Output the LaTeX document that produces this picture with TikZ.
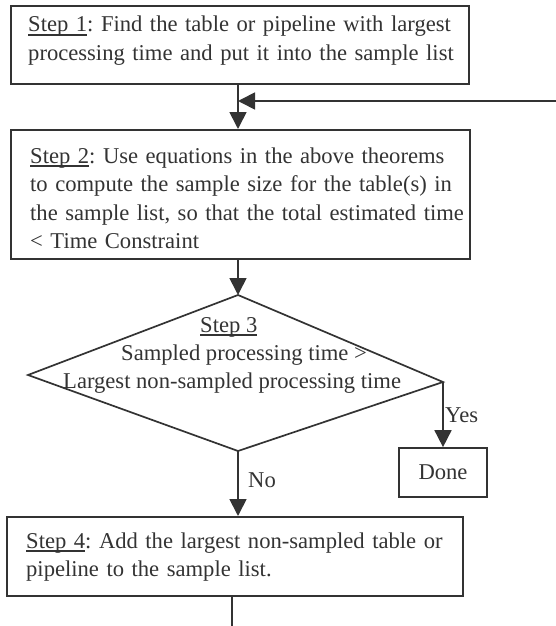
\documentclass[tikz,border=0pt]{standalone}
\usepackage{fontspec}
\setmainfont{Liberation Serif}
\usetikzlibrary{arrows.meta}

\definecolor{ink}{HTML}{333333}
% body font of the flow chart
\newcommand\stepfont{\fontsize{22.6}{28.5}\selectfont\frenchspacing}
% word-processor style underline that cuts through descenders
\newcommand\stepul[1]{\setbox0\hbox{#1}\rlap{\rule[-3.7pt]{\wd0}{1.3pt}}\box0}

\begin{document}
\begin{tikzpicture}[x=1pt,y=-1pt,
  stepbox/.style={draw=ink, line width=1.7pt, rectangle, anchor=north west, inner sep=0pt},
  steptext/.style={text=ink, font=\stepfont, inner sep=0pt, anchor=base west, align=left},
  flow/.style={draw=ink, line width=1.7pt, -{Triangle[length=17pt,width=17pt]}},
  plain/.style={draw=ink, line width=1.7pt},
]
\useasboundingbox (0,0) rectangle (556,626);

% boxes
\node[stepbox, minimum width=458pt, minimum height=78pt] (s1) at (10,5) {};
\node[stepbox, minimum width=459pt, minimum height=129pt] (s2) at (10,129) {};
\node[stepbox, minimum width=456pt, minimum height=79pt] (s4) at (6,516) {};
\node[draw=ink, line width=1.7pt, rectangle, minimum width=88pt, minimum height=49pt,
      inner sep=0pt, text=ink, font=\stepfont] (done) at (443,472.5) {Done};

% box texts
\node[steptext, text width=440pt] (s1t) at (28,32)
  {\stepul{Step 1}: Find the table or pipeline with largest\\
   processing time and put it into the sample list};
\node[steptext, text width=440pt] (s2t) at (30,163)
  {\stepul{Step 2}: Use equations in the above theorems\\
   to compute the sample size for the table(s) in\\
   the sample list, so that the total estimated time\\
   {<} Time Constraint};
\node[steptext, text width=440pt] (s4t) at (26,548)
  {\stepul{Step 4}: Add the largest non-sampled table or\\
   pipeline to the sample list.};

% decision diamond
\coordinate (dT) at (238,295);
\coordinate (dR) at (443,382);
\coordinate (dB) at (238,451);
\coordinate (dL) at (28,375);
\draw[plain, line join=miter] (dT) -- (dR) -- (dB) -- (dL) -- cycle;
\node[steptext] (d1) at (200,332) {\stepul{Step 3}};
\node[steptext] (d2) at (121,360) {Sampled processing time >};
\node[steptext] (d3) at (63,388) {Largest non-sampled processing time};

% loop connectors
\coordinate (join) at (238,101);
\coordinate (loopin) at (556,101);
\coordinate (loopout) at (232,626);

\draw[flow] (s1.south -| join) -- (s2.north -| join);
\draw[flow] (loopin) -- (join);
\draw[flow] (s2.south -| dT) -- (dT);
\draw[flow] (dR) -- (done.north);
\draw[flow] (dB) -- (s4.north -| dB);
\draw[plain] (s4.south -| loopout) -- (loopout);

% branch labels
\node[steptext] (yes) at (445,422) {Yes};
\node[steptext] (no) at (248,487) {No};
\end{tikzpicture}
\end{document}
